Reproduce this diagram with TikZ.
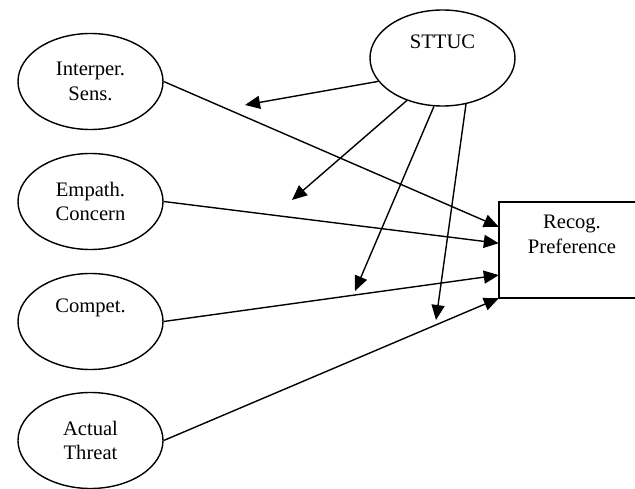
\documentclass[tikz,border=0pt]{standalone}
\usepackage{fontspec}
\setmainfont{Liberation Serif}
\usetikzlibrary{shapes.geometric,arrows.meta,calc}

\begin{document}
\begin{tikzpicture}[x=1pt, y=-1pt,
        font=\fontsize{20.6}{24.5}\selectfont,
        var/.style={draw, ellipse, line width=1.4pt, minimum width=145pt,
          minimum height=96pt, inner sep=0pt, align=center},
        outc/.style={rectangle, minimum width=146pt,
          minimum height=96pt, inner sep=0pt, align=center},
        arr/.style={line width=1.4pt, -{Triangle[length=15pt,width=13pt]}}]
        \useasboundingbox (0,0) rectangle (635,489);
        \clip (0,0) rectangle (635,489);
        % predictors
        \node[var] (interp) at (90.5,81.5) {Interper.\\Sens.};
        \node[var] (empath) at (90.5,201.5) {Empath.\\Concern};
        \node[var] (compet) at (90.5,321.5) {Compet.\\\strut};
        \node[var] (threat) at (90.5,440.5) {Actual\\Threat};
        % moderator and outcome (box runs off the right edge)
        \node[var] (sttuc) at (442.5,58) {STTUC\\\strut};
        \node[outc] (recog) at (572,250) {Recog.\\Preference\\\strut};
        \draw[line width=2pt] ($(recog.north east)+(20,0)$) -- (recog.north west)
          -- (recog.south west) -- ($(recog.south east)+(20,0)$);
        \foreach \src/\f in {interp/0.26, empath/0.43, compet/0.76, threat/1}
          \draw[arr] (\src.east) -- ($(recog.north west)!\f!(recog.south west)$);
        % moderation arrows
        \coordinate (m1) at (245,105);
        \coordinate (m2) at (292,200);
        \coordinate (m3) at (355,291);
        \coordinate (m4) at (436,320);
        \foreach \a/\m in {200/m1, 230/m2, 260/m3, 297/m4}
          \draw[arr] (sttuc.\a) -- (\m);
    \end{tikzpicture}
\end{document}
